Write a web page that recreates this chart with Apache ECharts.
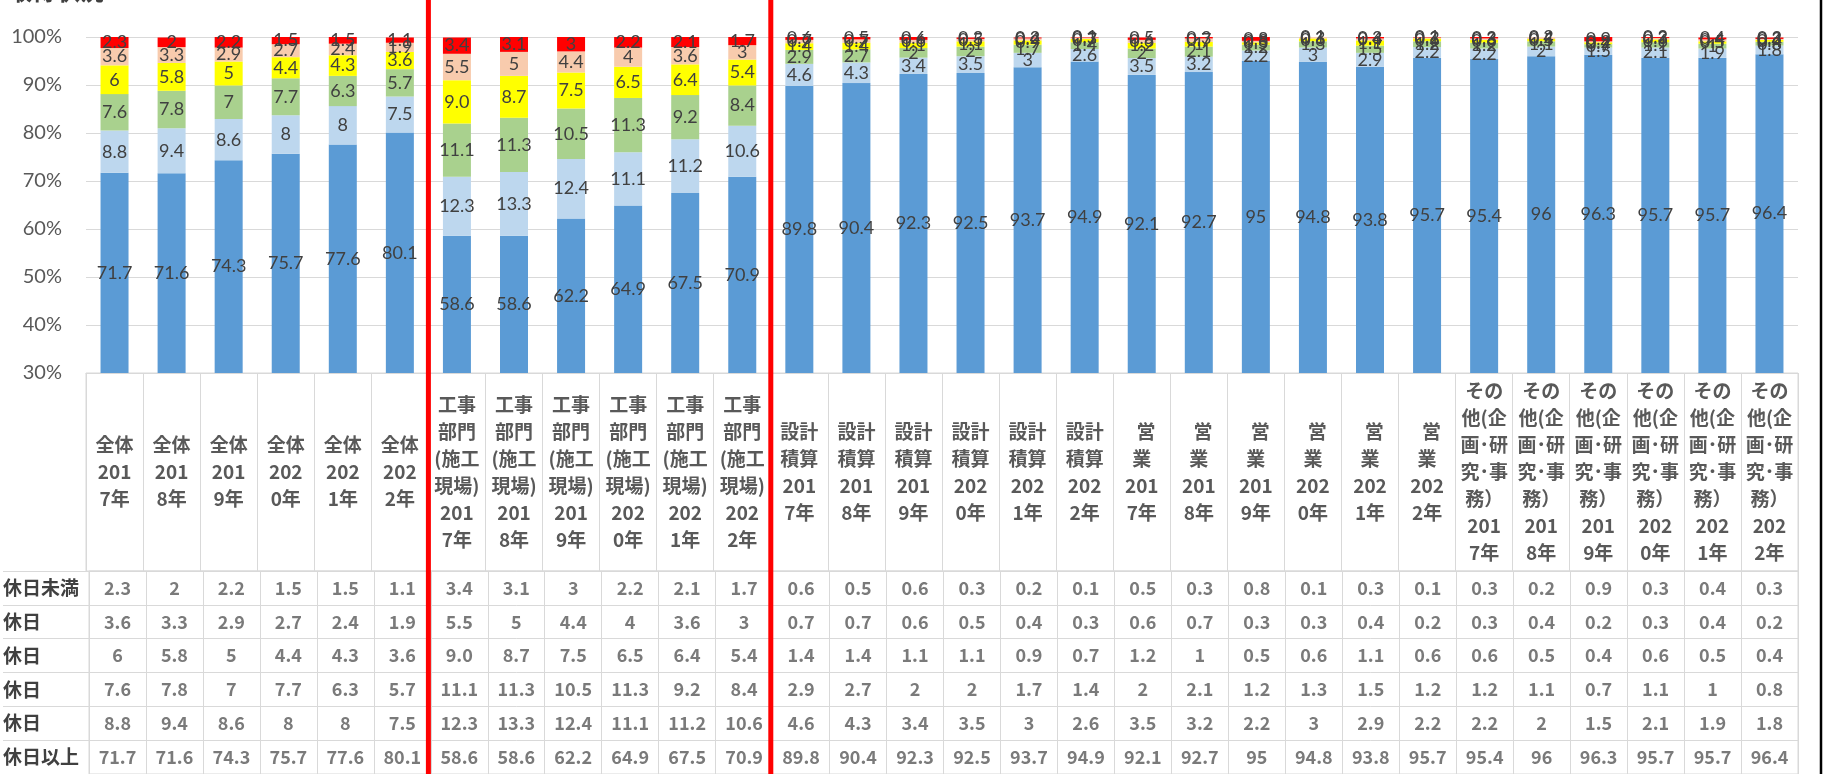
<!DOCTYPE html>
<html>
<head>
<meta charset="utf-8">
<script src="https://cdn.jsdelivr.net/npm/echarts@6/dist/echarts.min.js"></script>
<style>
    html, body { margin: 0; padding: 0; background: #fff; }
    #chart { width: 1839px; height: 774px; }
</style>
</head>
<body>
<div id="chart"></div>
<script>
// 年度と部門（カテゴリ）
var years = ["2017", "2018", "2019", "2020", "2021", "2022"];
var groupLines = [
    ["全体"],
    ["工事", "部門", "(施工", "現場)"],
    ["設計", "積算"],
    ["  営", "業"],
    ["その", "他(企", "画･研", "究･事", "務）"]
];
// 表の行見出し（上から）
var rowNames = ["休日未満", "休日", "休日", "休日", "休日", "休日以上"];

// 各系列の値（％）、表示どおりの文字列
var belowMin = ["2.3", "2", "2.2", "1.5", "1.5", "1.1", "3.4", "3.1", "3", "2.2", "2.1", "1.7",
    "0.6", "0.5", "0.6", "0.3", "0.2", "0.1", "0.5", "0.3", "0.8", "0.1", "0.3", "0.1",
    "0.3", "0.2", "0.9", "0.3", "0.4", "0.3"];
var level2 = ["3.6", "3.3", "2.9", "2.7", "2.4", "1.9", "5.5", "5", "4.4", "4", "3.6", "3",
    "0.7", "0.7", "0.6", "0.5", "0.4", "0.3", "0.6", "0.7", "0.3", "0.3", "0.4", "0.2",
    "0.3", "0.4", "0.2", "0.3", "0.4", "0.2"];
var level3 = ["6", "5.8", "5", "4.4", "4.3", "3.6", "9.0", "8.7", "7.5", "6.5", "6.4", "5.4",
    "1.4", "1.4", "1.1", "1.1", "0.9", "0.7", "1.2", "1", "0.5", "0.6", "1.1", "0.6",
    "0.6", "0.5", "0.4", "0.6", "0.5", "0.4"];
var level4 = ["7.6", "7.8", "7", "7.7", "6.3", "5.7", "11.1", "11.3", "10.5", "11.3", "9.2", "8.4",
    "2.9", "2.7", "2", "2", "1.7", "1.4", "2", "2.1", "1.2", "1.3", "1.5", "1.2",
    "1.2", "1.1", "0.7", "1.1", "1", "0.8"];
var level5 = ["8.8", "9.4", "8.6", "8", "8", "7.5", "12.3", "13.3", "12.4", "11.1", "11.2", "10.6",
    "4.6", "4.3", "3.4", "3.5", "3", "2.6", "3.5", "3.2", "2.2", "3", "2.9", "2.2",
    "2.2", "2", "1.5", "2.1", "1.9", "1.8"];
var aboveMax = ["71.7", "71.6", "74.3", "75.7", "77.6", "80.1", "58.6", "58.6", "62.2", "64.9", "67.5", "70.9",
    "89.8", "90.4", "92.3", "92.5", "93.7", "94.9", "92.1", "92.7", "95", "94.8", "93.8", "95.7",
    "95.4", "96", "96.3", "95.7", "95.7", "96.4"];

var chart = echarts.init(document.getElementById("chart"));

// カテゴリ名（折り返し済み）
var categories = [];
groupLines.forEach(function (lines) {
    years.forEach(function (y) {
        categories.push(lines.concat([y.slice(0, 3), y.slice(3) + "年"]).join("\n"));
    });
});

// 表の行（上から）
var tableRows = [belowMin, level2, level3, level4, level5, aboveMax];

// 積み上げ順（下から）
var stackOrder = [
    { data: aboveMax, color: "#5b9bd5" },
    { data: level5, color: "#bdd7ee" },
    { data: level4, color: "#a9d18e" },
    { data: level3, color: "#ffff00" },
    { data: level2, color: "#f8cbad" },
    { data: belowMin, color: "#ff0000" }
];

var gridColor = "#d9d9d9";
var barFont = "Lato, 'Liberation Sans', sans-serif";
var jpFont = "'Noto Sans CJK JP', sans-serif";

var series = stackOrder.map(function (s, i) {
    return {
        name: rowNames[5 - i],
        type: "bar",
        stack: "total",
        barWidth: 28,
        xAxisIndex: 0,
        yAxisIndex: 0,
        data: s.data.map(Number),
        itemStyle: { color: s.color },
        label: {
            show: true,
            position: "inside",
            color: "#404040",
            fontFamily: barFont,
            fontSize: 18,
            formatter: function (p) { return s.data[p.dataIndex]; }
        }
    };
});

// データテーブルの数値
var cells = [];
tableRows.forEach(function (row, r) {
    row.forEach(function (v, c) { cells.push([c, r]); });
});
series.push({
    type: "scatter",
    xAxisIndex: 2,
    yAxisIndex: 2,
    silent: true,
    symbolSize: 1,
    itemStyle: { color: "rgba(0,0,0,0)" },
    data: cells,
    label: {
        show: true,
        position: "inside",
        color: "#595959",
        fontFamily: jpFont,
        fontWeight: "bold",
        fontSize: 18,
        formatter: function (p) { return tableRows[p.value[1]][p.value[0]]; }
    }
});

var option = {
    animation: false,
    backgroundColor: "#fff",
    grid: [
        { left: 86, right: 41, top: 37, height: 336 },
        { left: 86, right: 41, top: 373, height: 198, show: true, borderColor: gridColor, borderWidth: 1 },
        { left: 86, right: 41, top: 571, height: 211, show: true, borderColor: gridColor, borderWidth: 1 }
    ],
    xAxis: [
        {
            type: "category",
            gridIndex: 0,
            data: categories,
            axisLine: { lineStyle: { color: gridColor } },
            axisTick: { show: false },
            axisLabel: {
                interval: 0,
                margin: 99,
                verticalAlign: "middle",
                lineHeight: 27,
                color: "#595959",
                fontFamily: jpFont,
                fontWeight: "bold",
                fontSize: 19
            }
        },
        {
            type: "category",
            gridIndex: 1,
            data: categories,
            axisLine: { show: false },
            axisTick: { show: false },
            axisLabel: { show: false },
            splitLine: { show: true, interval: 0, lineStyle: { color: gridColor } }
        },
        {
            type: "category",
            gridIndex: 2,
            data: categories,
            axisLine: { show: false },
            axisTick: { show: false },
            axisLabel: { show: false },
            splitLine: { show: true, interval: 0, lineStyle: { color: gridColor } }
        }
    ],
    yAxis: [
        {
            type: "value",
            gridIndex: 0,
            min: 30,
            max: 100,
            interval: 10,
            axisLine: { show: false },
            axisTick: { show: false },
            splitLine: { lineStyle: { color: gridColor } },
            axisLabel: {
                formatter: "{value}%",
                margin: 24,
                color: "#595959",
                fontFamily: barFont,
                fontSize: 20
            }
        },
        { type: "value", gridIndex: 1, show: false },
        {
            type: "category",
            gridIndex: 2,
            inverse: true,
            data: rowNames,
            axisLine: { show: false },
            axisTick: { show: true, interval: 0, length: 86, lineStyle: { color: gridColor } },
            splitLine: { show: true, interval: 0, lineStyle: { color: gridColor } },
            axisLabel: {
                interval: 0,
                align: "left",
                margin: 86,
                color: "#404040",
                fontFamily: jpFont,
                fontWeight: "bold",
                fontSize: 19
            }
        }
    ],
    series: series
};
chart.setOption(option);

// 区切りの赤線と右端の枠線
function boundary(i) {
    return (chart.convertToPixel({ xAxisIndex: 0 }, i - 1) + chart.convertToPixel({ xAxisIndex: 0 }, i)) / 2;
}
var xa = boundary(6), xb = boundary(12);
chart.setOption({
    graphic: [
        {
            type: "text", left: 8, top: -21, z: 100,
            style: { text: "取得状況", font: "bold 24px 'Noto Sans CJK JP'", fill: "#404040" }
        },
        { type: "line", z: 100, shape: { x1: xa, y1: 0, x2: xa, y2: 774 }, style: { stroke: "#ff0000", lineWidth: 5 } },
        { type: "line", z: 100, shape: { x1: xb, y1: 0, x2: xb, y2: 774 }, style: { stroke: "#ff0000", lineWidth: 5 } },
        { type: "line", z: 100, shape: { x1: 1821, y1: 0, x2: 1821, y2: 774 }, style: { stroke: "#000", lineWidth: 2.5 } }
    ]
});

window.addEventListener("resize", function () {
    chart.resize();
});
</script>
</body>
</html>
